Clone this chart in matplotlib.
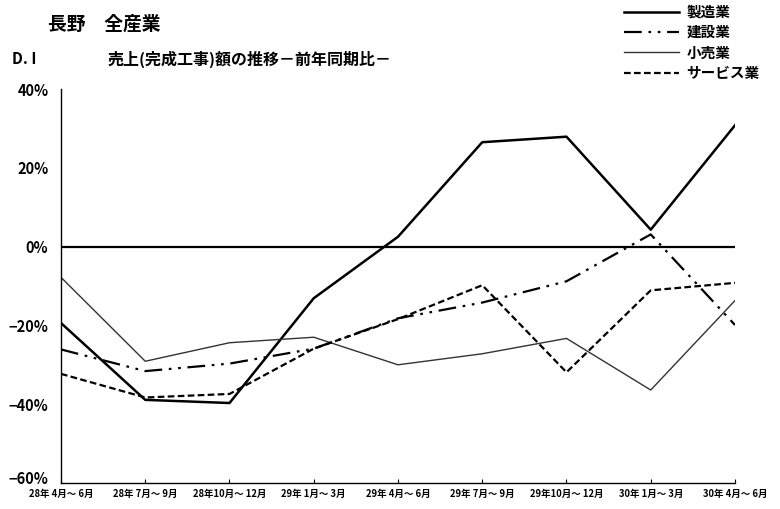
import numpy as np
import matplotlib.pyplot as plt
import matplotlib.transforms as mtransforms

plt.rcParams['font.family'] = ['Noto Sans CJK JP', 'DejaVu Sans']

quarters = ['28年 4月～ 6月', '28年 7月～ 9月', '28年10月～ 12月', '29年 1月～ 3月',
            '29年 4月～ 6月', '29年 7月～ 9月', '29年10月～ 12月', '30年 1月～ 3月',
            '30年 4月～ 6月']
seizo = [-19.4, -38.9, -39.7, -13.1, 2.5, 26.5, 27.9, 4.3, 30.8]
kensetsu = [-26.1, -31.6, -29.7, -25.9, -18.2, -14.2, -8.8, 3.1, -19.9]
kouri = [-7.8, -29.1, -24.4, -23.0, -30.0, -27.2, -23.3, -36.4, -13.7]
service = [-32.3, -38.3, -37.4, -25.9, -18.4, -9.8, -31.9, -11.1, -9.2]
yticks = [-60, -40, -20, 0, 20, 40]

fig = plt.figure(figsize=(7.8, 5.09), dpi=100)
ax = fig.add_axes([0.0782, 0.0511, 0.8641, 0.774])

x = np.arange(len(quarters))
ax.axhline(0, color='black', lw=1.6, zorder=1)
ax.plot(x, seizo, color='black', lw=1.8, label='製造業')
ax.plot(x, kensetsu, color='black', lw=1.6, dashes=(8, 3, 1.2, 3, 1.2, 3), label='建設業')
ax.plot(x, kouri, color='#333333', lw=1.0, label='小売業')
ax.plot(x, service, color='black', lw=1.6, dashes=(3, 1.5), label='サービス業')

ax.set_xlim(0, len(quarters) - 1)
ax.set_ylim(-60, 40)
ax.set_yticks(yticks)
ax.set_yticklabels([f'{v}%'.replace('-', '−') for v in yticks], fontsize=10.5,
                   fontweight='bold')
ax.tick_params(axis='y', length=0, pad=9)
# lift the bottom label a little so it clears the first category label
lowest = ax.get_yticklabels()[0]
lowest.set_transform(lowest.get_transform() +
                     mtransforms.ScaledTranslation(0, 4 / 72, fig.dpi_scale_trans))
ax.set_xticks(x)
ax.set_xticklabels(quarters, fontsize=6.8, fontweight='bold')
ax.tick_params(axis='x', direction='in', length=3, pad=4)
for s in ['top', 'right']:
    ax.spines[s].set_visible(False)
for s in ['left', 'bottom']:
    ax.spines[s].set_linewidth(1.0)

fig.text(0.062, 0.952, '長野　全産業', fontsize=13.5, fontweight='bold', va='center')
fig.text(0.015, 0.884, 'D. I', fontsize=11, fontweight='bold', va='center')
fig.text(0.138, 0.884, '売上(完成工事)額の推移－前年同期比－', fontsize=11.5,
         fontweight='bold', va='center')

fig.legend(loc='upper right', bbox_to_anchor=(0.985, 1.01), frameon=False,
           prop={'size': 10.5, 'weight': 'bold'}, handlelength=3.8,
           handletextpad=0.5, labelspacing=0.3, borderaxespad=0.2)

fig.savefig('out.png', dpi=100)
